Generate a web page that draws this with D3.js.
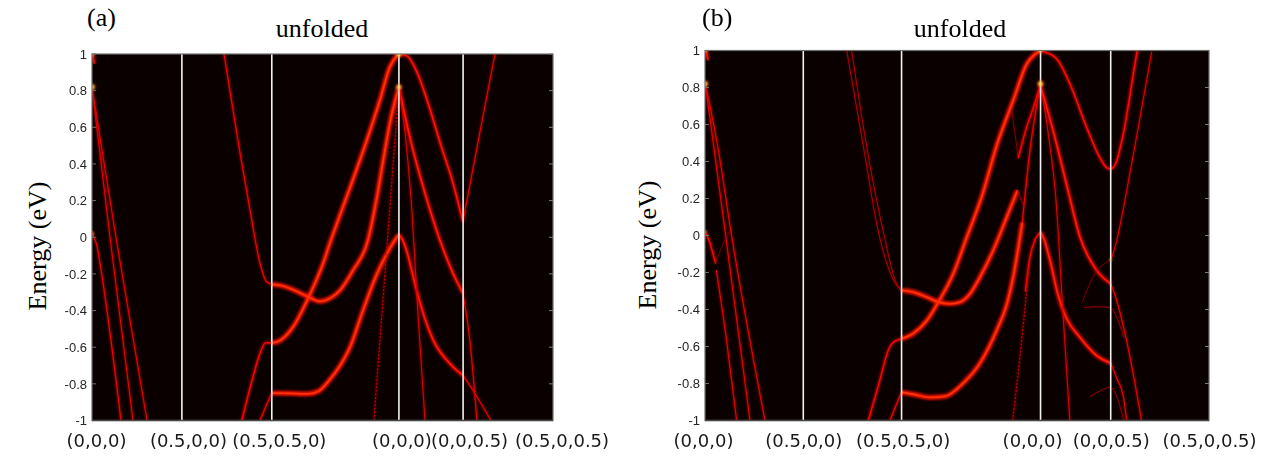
<!DOCTYPE html>
<html>
<head>
<meta charset="utf-8">
<script src="https://cdn.jsdelivr.net/npm/d3@7"></script>
<style>
body { margin: 0; background: #fff; }
svg { display: block; }
</style>
</head>
<body>
<script>
// k-path coordinate of the high-symmetry points and their labels
var kTicks = [0, 0.5, 1.0, 1.707, 2.064, 2.564];
var kLabels = ["(0,0,0)", "(0.5,0,0)", "(0.5,0.5,0)", "(0,0,0)", "(0,0,0.5)", "(0.5,0,0.5)"];
var eTicks = [-1, -0.8, -0.6, -0.4, -0.2, 0, 0.2, 0.4, 0.6, 0.8, 1];
var eTickLabels = ["-1", "-0.8", "-0.6", "-0.4", "-0.2", "0", "0.2", "0.4", "0.6", "0.8", "1"];
var panelTitles = ["unfolded", "unfolded"];
var panelLetters = ["(a)", "(b)"];

// unfolded bands, panel (a): [spectral weight, [[k, E], ...]]
var bandsA = [
  [0.55, [[0, 0.82], [0.100, 0], [0.228, -1]]],
  [0.55, [[0, 0.82], [0.133, 0], [0.306, -1]]],
  [0.6, [[0, 0.03], [0.006, 0.01], [0.028, -0.05], [0.044, -0.14], [0.161, -1]]],
  [0.8, [[0, 1.03], [0.012, 0.95]]],
  [0.6, [[0.734, 1.0], [0.823, 0.46], [0.879, 0.148], [0.934, -0.142], [0.973, -0.246], [1.0, -0.257]]],
  [1.0, [[1.0, -0.257], [1.046, -0.262], [1.101, -0.279], [1.196, -0.322], [1.268, -0.35], [1.324, -0.333],
         [1.379, -0.29], [1.452, -0.18], [1.535, -0.016], [1.585, 0.22], [1.625, 0.45], [1.665, 0.66], [1.707, 0.82]]],
  [0.85, [[1.707, 0.82], [1.774, 0.52], [1.852, 0.24], [1.935, -0.016], [2.008, -0.197], [2.063, -0.306]]],
  [0.55, [[2.063, -0.306], [2.10, -0.55], [2.141, -1]]],
  [0.7, [[0.833, -1], [0.885, -0.8], [0.934, -0.635], [0.965, -0.575], [1.0, -0.577]]],
  [1.0, [[1.0, -0.577], [1.046, -0.563], [1.118, -0.49], [1.201, -0.335], [1.285, -0.144], [1.324, -0.03],
         [1.379, 0.12], [1.435, 0.27], [1.529, 0.53], [1.602, 0.75], [1.657, 0.93], [1.696, 0.99], [1.707, 1.0]]],
  [0.8, [[1.707, 1.0], [1.752, 0.99], [1.808, 0.9], [1.863, 0.75], [1.941, 0.5], [2.008, 0.295], [2.063, 0.085]]],
  [0.55, [[2.063, 0.085], [2.11, 0.33], [2.245, 1.02]]],
  [0.6, [[0.934, -1], [0.973, -0.91], [1.0, -0.85]]],
  [1.0, [[1.0, -0.85], [1.1, -0.852], [1.2, -0.855], [1.26, -0.84], [1.32, -0.78], [1.38, -0.70], [1.435, -0.60],
         [1.507, -0.40], [1.585, -0.20], [1.657, -0.06], [1.685, -0.015], [1.707, 0.015]]],
  [0.85, [[1.707, 0.015], [1.73, -0.02], [1.752, -0.08], [1.78, -0.19], [1.808, -0.30], [1.85, -0.44],
          [1.897, -0.56], [1.991, -0.69], [2.063, -0.754]]],
  [0.55, [[2.063, -0.754], [2.119, -0.836], [2.219, -1]]],
  [0.5, [[1.707, 0.82], [1.74, 0.58], [1.775, 0.2], [1.815, -0.45], [1.852, -1]]]
];
// sparsely sampled (dotted) bands, panel (a)
var sparseA = [
  [0.45, [[1.568, -1], [1.707, 0.82]]]
];
// bright spots, panel (a): [k, E, intensity]
var spotsA = [[0, 0.82, 1], [0, 1.0, 0.7], [1.707, 1.0, 1], [1.707, 0.82, 0.9], [0, 0.02, 0.5]];

// unfolded bands, panel (b)
var bandsB = [
  [0.55, [[0, 0.83], [0.046, 0.47], [0.10, 0.04], [0.229, -1]]],
  [0.55, [[0, 0.83], [0.065, 0.48], [0.132, 0.02], [0.305, -1]]],
  [0.7, [[0, 0.02], [0.025, -0.04], [0.041, -0.10], [0.054, -0.15]]],
  [0.55, [[0.058, -0.19], [0.110, -0.57], [0.161, -1]]],
  [0.12, [[0.054, -0.15], [0.09, -0.05], [0.124, 0.02]]],
  [0.8, [[0, 1.03], [0.015, 0.95]]],
  [0.35, [[0.721, 1.0], [0.809, 0.46], [0.880, 0.03], [0.958, -0.24], [1.0, -0.30]]],
  [0.35, [[0.746, 1.0], [0.826, 0.46], [0.905, 0.03], [0.975, -0.26], [1.0, -0.30]]],
  [1.0, [[1.0, -0.297], [1.059, -0.306], [1.128, -0.333], [1.187, -0.36], [1.246, -0.369], [1.297, -0.36],
         [1.348, -0.315], [1.399, -0.225], [1.466, -0.081], [1.535, 0.099], [1.589, 0.243]]],
  [0.25, [[1.589, 0.243], [1.617, 0.17]]],
  [0.2, [[1.560, 0.68], [1.594, 0.42]]],
  [0.7, [[1.594, 0.42], [1.636, 0.585], [1.670, 0.69], [1.707, 0.82]]],
  [0.7, [[0.831, -1], [0.890, -0.78], [0.932, -0.62], [0.958, -0.577], [1.0, -0.558]]],
  [1.0, [[1.0, -0.558], [1.059, -0.53], [1.128, -0.46], [1.187, -0.36], [1.263, -0.207], [1.328, -0.02],
         [1.414, 0.23], [1.485, 0.49], [1.568, 0.73], [1.638, 0.93], [1.679, 0.98], [1.707, 1.0]]],
  [0.75, [[1.707, 1.0], [1.721, 0.995], [1.789, 0.955], [1.856, 0.82], [1.941, 0.585], [2.009, 0.42],
          [2.045, 0.365], [2.064, 0.36], [2.09, 0.39], [2.128, 0.55], [2.196, 0.98], [2.205, 1.03]]],
  [0.6, [[0.941, -1], [0.975, -0.91], [1.0, -0.847]]],
  [1.0, [[1.0, -0.847], [1.068, -0.86], [1.144, -0.875], [1.221, -0.87], [1.312, -0.80], [1.399, -0.69],
         [1.485, -0.51], [1.536, -0.37], [1.568, -0.225], [1.614, 0.07]]],
  [0.6, [[1.614, 0.07], [1.653, 0.46], [1.707, 0.82]]],
  [0.7, [[1.63, -0.3], [1.653, -0.117], [1.68, -0.02], [1.707, 0.018]]],
  [0.9, [[1.707, 0.018], [1.725, -0.02], [1.754, -0.13], [1.798, -0.33], [1.840, -0.45], [1.907, -0.55],
         [1.993, -0.65], [2.064, -0.69]]],
  [0.55, [[2.064, -0.69], [2.094, -0.77], [2.128, -0.87], [2.145, -1]]],
  [0.5, [[1.707, 0.82], [1.745, 0.56], [1.785, 0.2], [1.82, -0.4], [1.856, -1]]],
  [0.85, [[1.707, 0.81], [1.775, 0.55], [1.843, 0.26], [1.905, 0.0], [1.993, -0.19], [2.064, -0.26]]],
  [0.55, [[2.064, -0.26], [2.094, -0.35], [2.145, -0.57], [2.221, -1]]],
  [0.5, [[2.272, 0.99], [2.145, 0.24], [2.094, -0.03], [2.069, -0.12]]],
  [0.15, [[2.064, -0.13], [1.993, -0.19], [1.92, -0.36]]],
  [0.25, [[1.93, -0.39], [2.0, -0.385], [2.064, -0.39], [2.094, -0.44], [2.13, -0.55]]],
  [0.25, [[1.96, -0.87], [2.03, -0.83], [2.064, -0.82], [2.094, -0.87], [2.13, -1]]]
];
var sparseB = [
  [0.45, [[1.565, -1], [1.602, -0.66], [1.645, -0.2]]]
];
var spotsB = [[0, 0.82, 1], [0, 1.0, 0.7], [1.707, 0.82, 1], [1.707, 1.0, 0.6], [0, 0.02, 0.5], [2.064, -0.13, 0.3]];

var W = 1265, H = 466;
var svg = d3.select("body").append("svg")
    .attr("width", W)
    .attr("height", H);

var defs = svg.append("defs");
defs.append("filter").attr("id", "glow")
    .attr("x", "-20%").attr("y", "-20%").attr("width", "140%").attr("height", "140%")
  .append("feGaussianBlur").attr("stdDeviation", 1.3);
defs.append("filter").attr("id", "soft")
    .attr("x", "-50%").attr("y", "-50%").attr("width", "200%").attr("height", "200%")
  .append("feGaussianBlur").attr("stdDeviation", 1.0);
var grad = defs.append("radialGradient").attr("id", "spot");
grad.append("stop").attr("offset", "0%").attr("stop-color", "#ffffe0").attr("stop-opacity", 1);
grad.append("stop").attr("offset", "40%").attr("stop-color", "#ffd800").attr("stop-opacity", 0.85);
grad.append("stop").attr("offset", "75%").attr("stop-color", "#ff3000").attr("stop-opacity", 0.4);
grad.append("stop").attr("offset", "100%").attr("stop-color", "#ff0000").attr("stop-opacity", 0);

// MATLAB "hot" colormap
var hot = d3.scaleLinear()
    .domain([0, 0.375, 0.75, 1])
    .range(["#0b0000", "#ff0000", "#ffff00", "#ffffff"])
    .clamp(true);
function coreWidth(w) { return 0.45 + 1.3 * w; }
function glowWidth(w) { return 0.6 + 4.6 * w * w; }

var panels = [
  {x0: 92, x1: 553, y0: 54, y1: 420.5, letterX: 87, titleX: 322, labelX: 46, labelY: 246,
   shift: [4, 6, 7, 2.5, 6, 8.5], bands: bandsA, sparse: sparseA, spots: spotsA},
  {x0: 705, x1: 1209, y0: 50.5, y1: 420.5, letterX: 702, titleX: 960, labelX: 656, labelY: 245,
   shift: [-2, 0, 1, -8.5, 0, 0], bands: bandsB, sparse: sparseB, spots: spotsB}
];

panels.forEach(function(p, pi) {
  var x = d3.scaleLinear().domain([kTicks[0], kTicks[kTicks.length - 1]]).range([p.x0, p.x1]);
  var y = d3.scaleLinear().domain([-1, 1]).range([p.y1, p.y0]);
  var line = d3.line()
      .x(function(d) { return x(d[0]); })
      .y(function(d) { return y(d[1]); })
      .curve(d3.curveMonotoneX);
  var lineSteep = d3.line()
      .x(function(d) { return x(d[0]); })
      .y(function(d) { return y(d[1]); })
      .curve(d3.curveCatmullRom.alpha(0.5));
  // monotone in k where possible, catmull-rom for paths that turn back in k
  function bandPath(pts) {
    for (var i = 1; i < pts.length; i++) {
      if (pts[i][0] <= pts[i - 1][0]) return lineSteep(pts);
    }
    return line(pts);
  }

  var clipId = "clip" + pi;
  defs.append("clipPath").attr("id", clipId)
    .append("rect")
      .attr("x", p.x0).attr("y", p.y0)
      .attr("width", p.x1 - p.x0).attr("height", p.y1 - p.y0);

  var g = svg.append("g");
  var plot = g.append("g").attr("clip-path", "url(#" + clipId + ")");

  plot.append("rect")
      .attr("x", p.x0).attr("y", p.y0)
      .attr("width", p.x1 - p.x0).attr("height", p.y1 - p.y0)
      .attr("fill", "#0b0000");

  // soft halo
  plot.append("g").attr("filter", "url(#glow)")
    .selectAll("path")
    .data(p.bands.concat(p.sparse))
    .enter().append("path")
      .attr("d", function(d) { return bandPath(d[1]); })
      .attr("fill", "none")
      .attr("stroke", function(d) { return hot(0.2 + 0.2 * d[0]); })
      .attr("stroke-width", function(d) { return glowWidth(d[0]); })
      .attr("stroke-opacity", function(d) { return 0.25 + 0.65 * d[0]; });

  // band cores
  plot.append("g")
    .selectAll("path")
    .data(p.bands)
    .enter().append("path")
      .attr("d", function(d) { return bandPath(d[1]); })
      .attr("fill", "none")
      .attr("stroke", function(d) { return hot(0.2 + 0.25 * d[0]); })
      .attr("stroke-width", function(d) { return coreWidth(d[0]); })
      .attr("stroke-linecap", "round");

  plot.append("g")
    .selectAll("path")
    .data(p.sparse)
    .enter().append("path")
      .attr("d", function(d) { return bandPath(d[1]); })
      .attr("fill", "none")
      .attr("stroke", function(d) { return hot(0.2 + 0.25 * d[0]); })
      .attr("stroke-width", function(d) { return coreWidth(d[0]); })
      .attr("stroke-dasharray", "2,1.6");

  // high-symmetry lines
  plot.selectAll("line.hs")
    .data(kTicks.slice(1, kTicks.length - 1))
    .enter().append("line")
      .attr("class", "hs")
      .attr("x1", function(d) { return x(d); })
      .attr("x2", function(d) { return x(d); })
      .attr("y1", p.y0).attr("y2", p.y1)
      .attr("stroke", "#f2f2f2")
      .attr("stroke-width", 1.6);

  plot.append("g").attr("filter", "url(#soft)")
    .selectAll("circle")
    .data(p.spots)
    .enter().append("circle")
      .attr("cx", function(d) { return x(d[0]); })
      .attr("cy", function(d) { return y(d[1]); })
      .attr("r", function(d) { return 1.5 + 3 * d[2]; })
      .attr("fill", "url(#spot)")
      .attr("opacity", function(d) { return 0.4 + 0.6 * d[2]; });

  // inward ticks on both sides
  g.selectAll("line.tl")
    .data(eTicks)
    .enter().append("line")
      .attr("x1", p.x0).attr("x2", p.x0 + 4)
      .attr("y1", function(d) { return y(d); })
      .attr("y2", function(d) { return y(d); })
      .attr("stroke", "#707070");
  g.selectAll("line.tr")
    .data(eTicks)
    .enter().append("line")
      .attr("x1", p.x1 - 4).attr("x2", p.x1)
      .attr("y1", function(d) { return y(d); })
      .attr("y2", function(d) { return y(d); })
      .attr("stroke", "#808080");

  g.append("rect")
      .attr("x", p.x0).attr("y", p.y0)
      .attr("width", p.x1 - p.x0).attr("height", p.y1 - p.y0)
      .attr("fill", "none")
      .attr("stroke", "#6f6f6f")
      .attr("stroke-width", 1.2);
  g.append("line")
      .attr("x1", p.x0).attr("x2", p.x1)
      .attr("y1", p.y1).attr("y2", p.y1)
      .attr("stroke", "#4a4a4a")
      .attr("stroke-width", 1.6);

  // y tick labels
  var yAxis = g.append("g")
      .attr("transform", "translate(" + p.x0 + ",0)")
      .call(d3.axisLeft(y).tickValues(eTicks)
        .tickFormat(function(d, i) { return eTickLabels[i]; })
        .tickSize(0).tickPadding(5));
  yAxis.select(".domain").remove();
  yAxis.selectAll("text")
      .attr("font-family", "'Liberation Sans', Arial, sans-serif")
      .attr("font-size", 13)
      .attr("fill", "#262626");

  // k-path labels
  var xAxis = g.append("g")
      .attr("transform", "translate(0," + p.y1 + ")")
      .call(d3.axisBottom(x).tickValues(kTicks)
        .tickFormat(function(d, i) { return kLabels[i]; })
        .tickSize(0).tickPadding(13.7));
  xAxis.select(".domain").remove();
  xAxis.selectAll("text")
      .attr("dx", function(d, i) { return p.shift[i]; })
      .attr("font-family", "'DejaVu Sans', Verdana, sans-serif")
      .attr("font-size", 18)
      .attr("fill", "#1a1a1a");

  g.append("text")
      .attr("x", p.titleX).attr("y", 37)
      .attr("text-anchor", "middle")
      .attr("font-family", "'Liberation Serif', 'Times New Roman', serif")
      .attr("font-size", 26)
      .attr("fill", "#000")
      .text(panelTitles[pi]);

  g.append("text")
      .attr("x", p.letterX).attr("y", 26)
      .attr("font-family", "'Liberation Serif', 'Times New Roman', serif")
      .attr("font-size", 26)
      .attr("fill", "#000")
      .text(panelLetters[pi]);

  g.append("text")
      .attr("transform", "translate(" + p.labelX + "," + p.labelY + ") rotate(-90)")
      .attr("text-anchor", "middle")
      .attr("font-family", "'Liberation Serif', 'Times New Roman', serif")
      .attr("font-size", 26)
      .attr("fill", "#000")
      .text("Energy (eV)");
});
</script>
</body>
</html>
